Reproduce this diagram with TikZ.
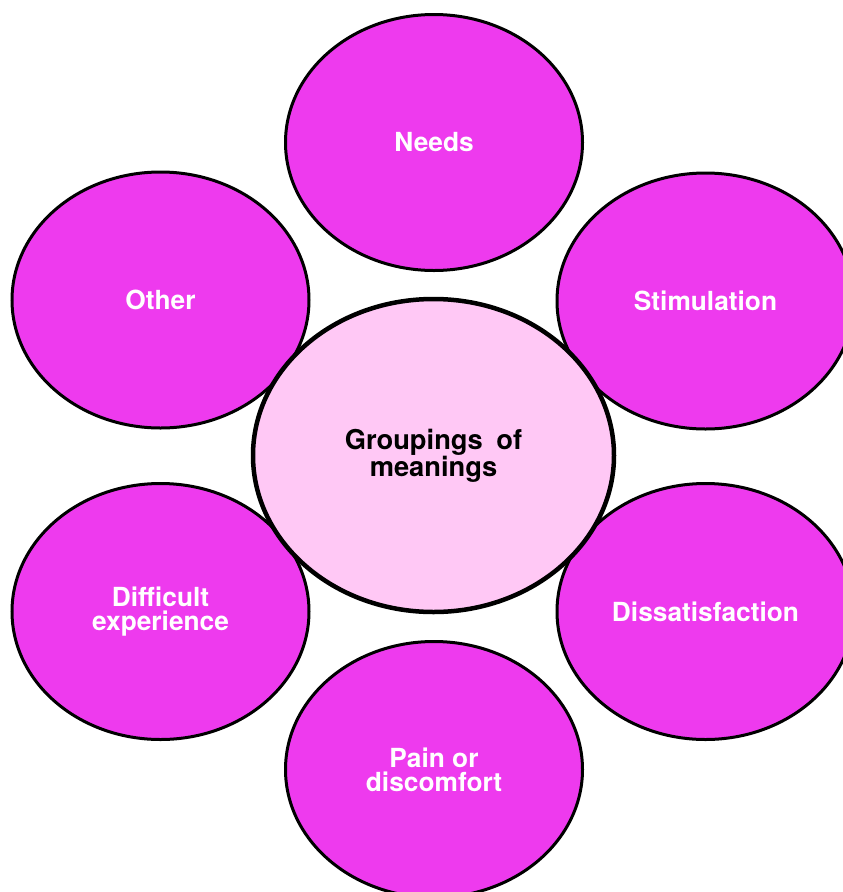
\documentclass[tikz,border=0pt]{standalone}
\usepackage{fontspec}
\setmainfont{TeX Gyre Heros}
\usetikzlibrary{shapes.geometric}
\definecolor{petal}{RGB}{238,58,238}
\definecolor{core}{RGB}{255,200,245}
\tikzset{
  petalnode/.style={ellipse, draw=black, line width=3pt, fill=petal, inner sep=0pt,
    minimum width=297pt, minimum height=256pt, text=white, align=center,
    font=\fontsize{26.3}{24}\selectfont\bfseries},
  corenode/.style={ellipse, draw=black, line width=4.5pt, fill=core, inner sep=0pt,
    minimum width=361pt, minimum height=313pt, text=black, align=center,
    font=\fontsize{27.3}{24}\selectfont\bfseries}
}
\begin{document}
\begin{tikzpicture}[x=1pt,y=-1pt]
\useasboundingbox (0,0) rectangle (843,892);
\node[petalnode] (needs) at (434,142.5) {Needs};
\node[petalnode] (other) at (160.5,300) {Other};
\node[petalnode] (stim) at (705.5,301) {Stimulation};
\node[petalnode] (diff) at (160.5,611.5) {Difficult\\experience};
\node[petalnode] (dissat) at (705.5,611.5) {Dissatisfaction};
\node[petalnode] (pain) at (434,769.5) {Pain or\\discomfort};
\node[corenode] (core) at (433.5,455.5) {Groupings\hspace{0.5em}of\\meanings};
\end{tikzpicture}
\end{document}
